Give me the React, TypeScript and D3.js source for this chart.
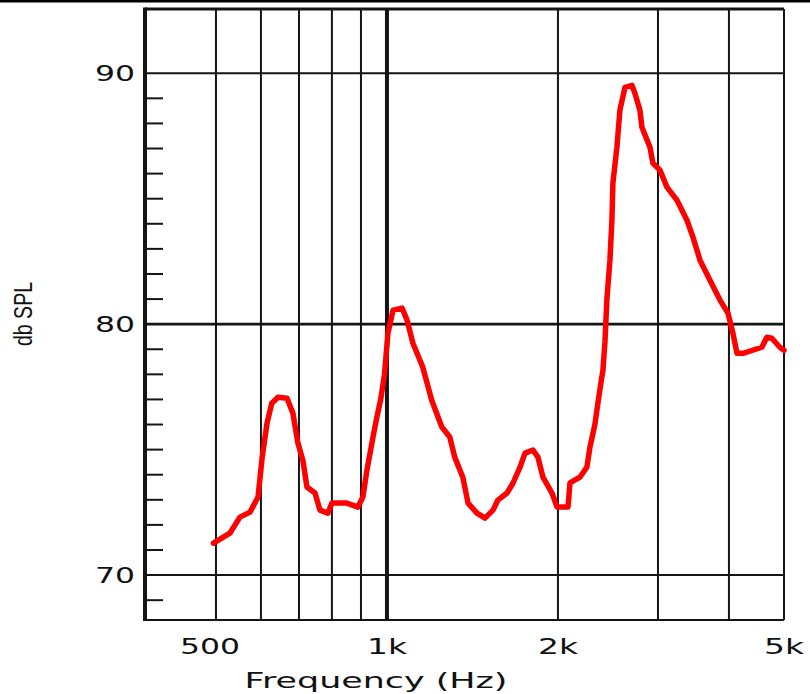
import React from "react";
import * as d3 from "d3";

const freqs = [495, 529, 551, 574, 593, 603, 615, 627, 643, 667, 683, 697, 711, 723, 747, 762, 787, 800, 850, 889, 907, 922, 945, 960, 975, 990, 1004, 1025, 1063, 1085, 1111, 1156, 1199, 1249, 1290, 1316, 1360, 1389, 1440, 1488, 1537, 1568, 1627, 1667, 1715, 1750, 1807, 1844, 1882, 1952, 1993, 2083, 2100, 2186, 2249, 2277, 2323, 2342, 2371, 2400, 2420, 2439, 2469, 2489, 2499, 2540, 2571, 2624, 2699, 2732, 2788, 2811, 2904, 2939, 3024, 3111, 3240, 3374, 3457, 3557, 3704, 3857, 3984, 4065, 4132, 4234, 4571, 4665, 4760, 4917, 5000];
const spl = [71.27, 71.67, 72.31, 72.51, 73.11, 74.7, 76.06, 76.85, 77.09, 77.05, 76.45, 75.26, 74.58, 73.51, 73.27, 72.59, 72.47, 72.87, 72.87, 72.71, 73.11, 74.18, 75.5, 76.3, 77.0, 78.0, 79.64, 80.56, 80.64, 80.16, 79.24, 78.29, 76.97, 75.9, 75.5, 74.7, 73.9, 72.87, 72.47, 72.27, 72.59, 72.99, 73.27, 73.67, 74.3, 74.86, 74.98, 74.7, 73.9, 73.27, 72.71, 72.71, 73.67, 73.9, 74.3, 75.1, 76.0, 76.57, 77.4, 78.17, 79.3, 81.0, 82.55, 84.14, 85.62, 87.05, 88.53, 89.44, 89.52, 89.2, 88.53, 87.85, 87.05, 86.41, 86.14, 85.46, 84.94, 84.14, 83.47, 82.55, 81.75, 80.96, 80.44, 79.64, 78.84, 78.84, 79.08, 79.48, 79.44, 79.08, 78.96];

const xGrid = [500, 600, 700, 800, 900, 1000, 2000, 3000, 4000];
const xTickValues = [500, 1000, 2000, 5000];
const xTickLabels = ["500", "1k", "2k", "5k"];
const yMajor = [70, 80, 90];
const yMajorLabels = ["70", "80", "90"];
const yMinor = [69, 71, 72, 73, 74, 75, 76, 77, 78, 79, 81, 82, 83, 84, 85, 86, 87, 88, 89];

const W = 810, H = 694;
const L = 145, R = 784, T = 9, B = 620;

export default function App() {
  const x = d3.scaleLog().domain([375, 5000]).range([L, R]);
  const y = d3.scaleLinear().domain([68.21, 92.56]).range([B, T]);
  const pts: [number, number][] = freqs.map((f, i) => [f, spl[i]]);
  const line = d3.line<[number, number]>().x(d => x(d[0])).y(d => y(d[1]));
  const ink = "#151515";
  const font = "DejaVu Sans, Verdana, sans-serif";
  return (
    <svg width={W} height={H} style={{ position: "absolute", left: 0, top: 0, background: "#fff" }}>
      <rect x={0} y={0} width={W} height={2.5} fill="#000" />
      {xGrid.map(f => (
        <line key={"gx" + f} x1={x(f)} x2={x(f)} y1={T} y2={B} stroke={ink} strokeWidth={f === 1000 ? 4 : 2} />
      ))}
      {yMajor.map(v => (
        <line key={"gy" + v} x1={L} x2={R} y1={y(v)} y2={y(v)} stroke={ink} strokeWidth={v === 80 ? 2.6 : 2} />
      ))}
      {yMinor.map(v => (
        <line key={"my" + v} x1={L} x2={L + 18} y1={y(v)} y2={y(v)} stroke={ink} strokeWidth={2} />
      ))}
      <line x1={L} x2={R} y1={T} y2={T} stroke={ink} strokeWidth={3} />
      <line x1={L} x2={R} y1={B} y2={B} stroke={ink} strokeWidth={2} />
      <line x1={R} x2={R} y1={T} y2={B} stroke={ink} strokeWidth={2} />
      <line x1={L} x2={L} y1={T - 1.5} y2={B + 1} stroke={ink} strokeWidth={4} />
      <path d={line(pts) || ""} fill="none" stroke="#ff0000" strokeWidth={5.5} strokeLinejoin="round" strokeLinecap="round" />
      {yMajor.map((v, i) => (
        <text key={"yl" + v} x={135} y={y(v) + 8} textAnchor="end" fontFamily={font} fontSize={22}
          textLength={40} lengthAdjust="spacingAndGlyphs" fill="#111">{yMajorLabels[i]}</text>
      ))}
      {xTickValues.map((v, i) => (
        <text key={"xl" + v} x={x(v) - (i === 0 ? 6 : 0)} y={654} textAnchor="middle" fontFamily={font} fontSize={22}
          textLength={xTickLabels[i].length === 3 ? 60 : 40} lengthAdjust="spacingAndGlyphs" fill="#111">{xTickLabels[i]}</text>
      ))}
      <text x={376} y={688} textAnchor="middle" fontFamily={font} fontSize={21}
        textLength={263} lengthAdjust="spacingAndGlyphs" fill="#111">Frequency (Hz)</text>
      <text transform="translate(32,314) rotate(-90)" textAnchor="middle" fontFamily="Liberation Sans Narrow, Liberation Sans, Arial, sans-serif"
        fontSize={25} textLength={64} lengthAdjust="spacingAndGlyphs" fill="#111">db SPL</text>
    </svg>
  );
}
